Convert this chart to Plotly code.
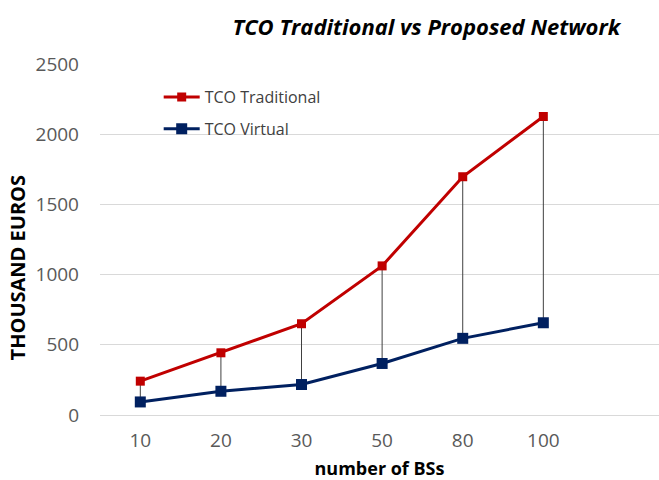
import plotly.graph_objects as go

categories = ["10", "20", "30", "50", "80", "100"]
tco_traditional = [241, 443, 650, 1062, 1697, 2126]
tco_virtual = [93, 169, 217, 367, 546, 657]
y_ticks = [0, 500, 1000, 1500, 2000, 2500]

xs = list(range(len(categories)))

# high-low drop lines between the two series
drop_x, drop_y = [], []
for i, (a, b) in enumerate(zip(tco_traditional, tco_virtual)):
    drop_x += [i, i, None]
    drop_y += [a, b, None]

fig = go.Figure()
fig.add_trace(go.Scatter(x=drop_x, y=drop_y, mode="lines",
                         line=dict(color="#404040", width=1),
                         showlegend=False, hoverinfo="skip"))
fig.add_trace(go.Scatter(x=xs, y=tco_traditional, mode="lines+markers",
                         name="TCO Traditional", legend="legend",
                         line=dict(color="#C00000", width=3),
                         marker=dict(symbol="square", size=9, color="#C00000")))
fig.add_trace(go.Scatter(x=xs, y=tco_virtual, mode="lines+markers",
                         name="TCO Virtual", legend="legend2",
                         line=dict(color="#002060", width=3),
                         marker=dict(symbol="square", size=11, color="#002060")))

font_family = "Open Sans"
leg_common = dict(xanchor="left", yanchor="middle", bgcolor="rgba(0,0,0,0)",
                  font=dict(size=16, color="#404040"), itemwidth=36)
fig.update_layout(
    width=659, height=480,
    margin=dict(l=100, r=0, t=64, b=65, autoexpand=False),
    paper_bgcolor="white", plot_bgcolor="white",
    font=dict(family=font_family, color="#595959", size=16),
    title=dict(text="<b><i>TCO Traditional vs Proposed Network</i></b>",
               x=0.647, xanchor="center", y=0.943, yanchor="middle",
               font=dict(family=font_family, size=22, color="black")),
    legend=dict(x=0.105, y=0.906, **leg_common),
    legend2=dict(x=0.105, y=0.815, **leg_common),
    xaxis=dict(range=[-0.5, 6.435], tickvals=xs, ticktext=categories,
               showgrid=False, zeroline=False, showline=False, ticks="",
               ticklabelstandoff=12,
               tickfont=dict(size=19, color="#595959"),
               title=dict(text="<b>number of BSs</b>", standoff=20,
                          font=dict(size=18, color="black"))),
    yaxis=dict(range=[0, 2500], tickvals=y_ticks, showgrid=True,
               gridcolor="#D9D9D9", gridwidth=1, zeroline=True,
               zerolinecolor="#D9D9D9", zerolinewidth=1, ticks="",
               ticklabelstandoff=20,
               tickfont=dict(size=19, color="#595959")),
    annotations=[dict(text="<b>THOUSAND EUROS</b>", textangle=-90,
                      xref="paper", yref="paper", x=-0.147, y=0.42,
                      xanchor="center", yanchor="middle", showarrow=False,
                      font=dict(family=font_family, size=20, color="black"))],
    showlegend=True,
)

fig.write_html("out.html")
